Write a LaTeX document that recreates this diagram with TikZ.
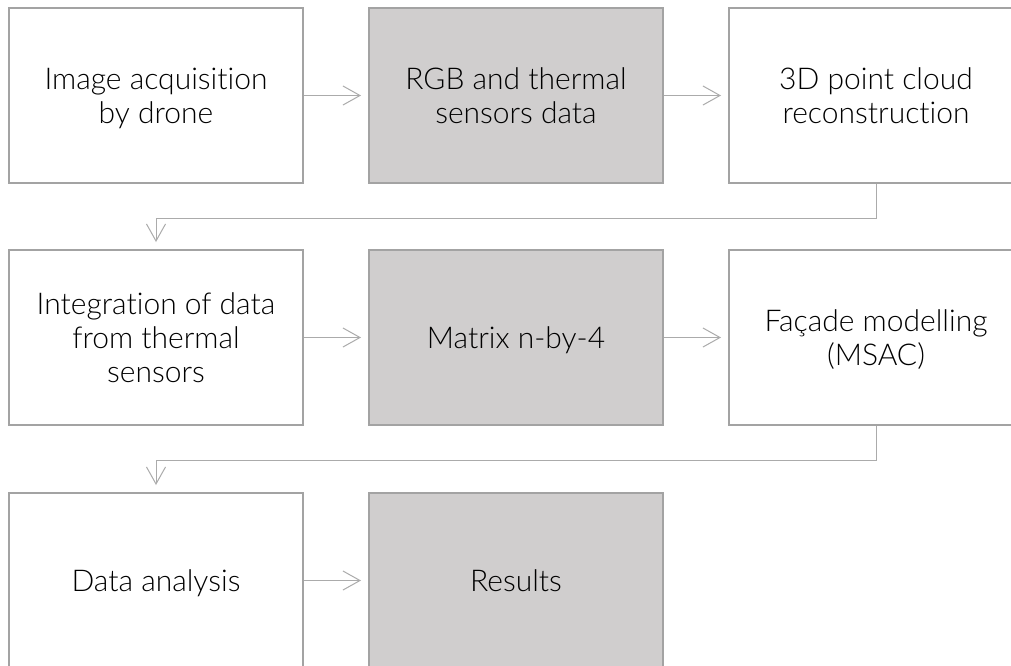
\documentclass[tikz,border=0pt]{standalone}
\usepackage{fontspec}
\setmainfont{Lato}[UprightFont={* Light}, Ligatures=NoCommon]
\usetikzlibrary{arrows.meta}
\definecolor{boxline}{HTML}{A3A3A3}
\definecolor{boxfill}{HTML}{D0CECE}
\definecolor{linkline}{HTML}{ABABAB}
\tikzset{
  stage/.style={draw=boxline, line width=2pt, fill=white, rectangle,
    minimum width=294pt, minimum height=175pt, align=center,
    font=\fontsize{30}{34}\selectfont, text=black, inner sep=0pt,
    text depth=0pt},
  shaded/.style={stage, fill=boxfill},
  link/.style={draw=linkline, line width=1pt,
    -{Straight Barb[length=17pt, width=19pt, line width=1pt]}, shorten >=7pt}
}
\begin{document}
\begin{tikzpicture}[x=1pt, y=-1pt]
\useasboundingbox (0,0) rectangle (1011,665);
\clip (0,0) rectangle (1011,665);
\fill[white] (0,0) rectangle (1011,665);
% first row
\node[stage]  (acq)   at (156,95.5)  {Image acquisition\\by drone};
\node[shaded] (raw)   at (516,95.5)  {RGB and thermal\\sensors data};
\node[stage]  (cloud) at (876,95.5)  {3D point cloud\\reconstruction};
% second row
\node[stage]  (integ) at (156,337.5) {Integration of data\\from thermal\\sensors};
\node[shaded] (mat)   at (516,337.5) {Matrix n-by-4};
\node[stage]  (model) at (876,337.5) {Façade modelling\\(MSAC)};
% third row
\node[stage]  (anal)  at (156,580.5) {Data analysis};
\node[shaded] (res)   at (516,580.5) {Results};
% connectors
\draw[link] (acq.east) -- (raw.west);
\draw[link] (raw.east) -- (cloud.west);
\draw[link] (cloud.south) -- ++(0,34) -| (integ.north);
\draw[link] (integ.east) -- (mat.west);
\draw[link] (mat.east) -- (model.west);
\draw[link] (model.south) -- ++(0,34) -| (anal.north);
\draw[link] (anal.east) -- (res.west);
\end{tikzpicture}
\end{document}
